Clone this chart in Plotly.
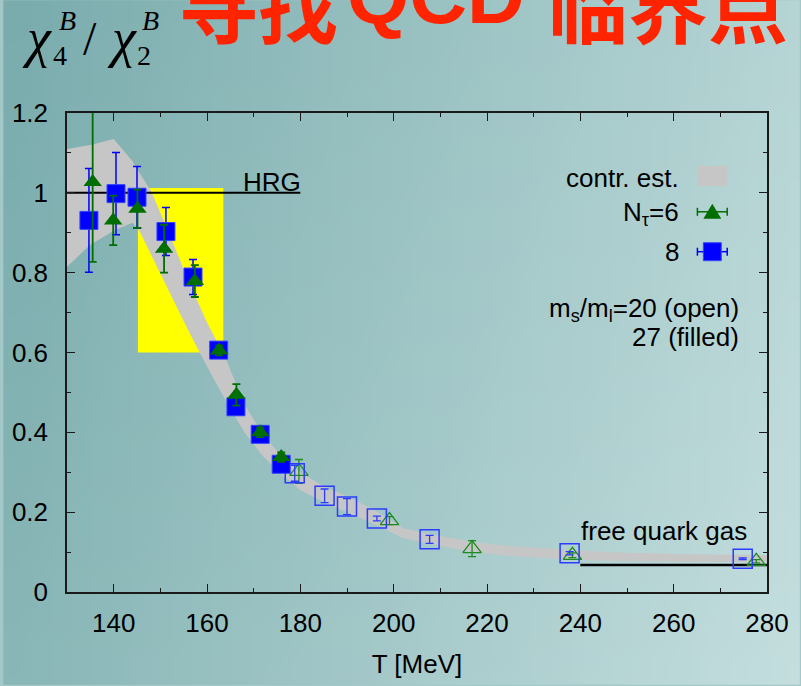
import zlib, struct, base64
import plotly.graph_objects as go

# ---------------- data ----------------
# contribution estimate band (gray)
band_T = [130, 135, 140, 144, 145.5, 148, 152, 156, 160, 164, 168, 172, 176, 180, 185, 190, 196, 202, 210, 217, 225, 235, 245, 260, 280]
band_lo = [0.815, 0.87, 0.905, 0.925, 0.905, 0.845, 0.75, 0.655, 0.565, 0.48, 0.40, 0.34, 0.295, 0.255, 0.225, 0.20, 0.17, 0.135, 0.115, 0.10, 0.09, 0.083, 0.078, 0.076, 0.075]
band_hi = [1.11, 1.12, 1.135, 1.08, 1.05, 1.005, 0.895, 0.78, 0.675, 0.585, 0.47, 0.395, 0.34, 0.30, 0.265, 0.24, 0.205, 0.16, 0.14, 0.125, 0.115, 0.107, 0.10, 0.095, 0.0925]

# N_tau=8, ms/ml=27 (filled squares)
T8f = [134.7, 140.5, 145.0, 151.2, 157.0, 162.5, 166.2, 171.4, 175.9]
y8f = [0.931, 0.998, 0.989, 0.903, 0.789, 0.606, 0.464, 0.395, 0.320]
e8f = [0.13, 0.103, 0.077, 0.06, 0.044, 0.012, 0.015, 0.012, 0.012]

# N_tau=6, ms/ml=27 (filled triangles)
T6f = [135.5, 139.9, 145.1, 150.8, 157.4, 162.6, 166.3, 171.4, 175.9]
y6f = [1.027, 0.931, 0.960, 0.860, 0.779, 0.605, 0.494, 0.400, 0.338]
e6f = [0.20, 0.062, 0.048, 0.06, 0.04, 0.012, 0.027, 0.012, 0.012]

# N_tau=8, ms/ml=20 (open squares)
T8o = [178.8, 185.2, 190.0, 196.4, 207.7, 237.7, 274.8]
y8o = [0.2975, 0.241, 0.214, 0.184, 0.132, 0.097, 0.0834]
e8o = [0.02, 0.017, 0.02, 0.006, 0.01, 0.004, 0.002]

# N_tau=6, ms/ml=20 (open triangles)
T6o = [179.7, 199.1, 216.8, 238.3, 277.7]
y6o = [0.302, 0.179, 0.1085, 0.092, 0.077]
e6o = [0.03, 0.01, 0.02, 0.006, 0.004]

HRG_T = [130, 180]
HRG_y = [1.0, 1.0]
free_T = [240, 280]
free_y = [0.0675, 0.0675]

highlight_T = [145.2, 163.5]
highlight_y = [0.6, 1.012]

x_ticks = [140, 160, 180, 200, 220, 240, 260, 280]
y_ticks = [0, 0.2, 0.4, 0.6, 0.8, 1.0, 1.2]
y_ticklabels = ["0", "0.2", "0.4", "0.6", "0.8", "1", "1.2"]

# ---------------- layout helpers ----------------
W, H = 801, 686
L, R, T_, B = 64, 33, 113, 93
PW, PH = W - L - R, H - T_ - B

def xp(px):
    return (px - L) / PW

def yp(py):
    return (H - B - py) / PH

FONT = "Liberation Sans, Arial, Helvetica, sans-serif"
SERIF = "Liberation Serif, DejaVu Serif, serif"

# background gradient png
def make_png(w, h, c0, c1):
    raw = bytearray()
    for j in range(h):
        raw.append(0)
        for i in range(w):
            t = 0.8 * i / (w - 1) + 0.2 * j / (h - 1)
            raw += bytes(int(round(c0[k] + (c1[k] - c0[k]) * t)) for k in range(3))
    def chunk(tag, data):
        c = struct.pack('>I', len(data)) + tag + data
        return c + struct.pack('>I', zlib.crc32(tag + data) & 0xffffffff)
    png = (b'\x89PNG\r\n\x1a\n' + chunk(b'IHDR', struct.pack('>IIBBBBB', w, h, 8, 2, 0, 0, 0))
           + chunk(b'IDAT', zlib.compress(bytes(raw))) + chunk(b'IEND', b''))
    return 'data:image/png;base64,' + base64.b64encode(png).decode()

bg = make_png(40, 40, (122, 172, 173), (196, 222, 222))

fig = go.Figure()

# band
fig.add_trace(go.Scatter(x=band_T, y=band_lo, mode='lines', line=dict(width=0, color='#c6c6c6'),
                         showlegend=False, hoverinfo='skip'))
fig.add_trace(go.Scatter(x=band_T, y=band_hi, mode='lines', line=dict(width=0, color='#c6c6c6'),
                         fill='tonexty', fillcolor='#c6c6c6', showlegend=False, hoverinfo='skip'))

# reference lines
fig.add_trace(go.Scatter(x=HRG_T, y=HRG_y, mode='lines', line=dict(color='black', width=2), showlegend=False))
fig.add_trace(go.Scatter(x=free_T, y=free_y, mode='lines', line=dict(color='black', width=2.5), showlegend=False))

BLUE = '#0000ff'
GREEN = '#006e00'

fig.add_trace(go.Scatter(x=T6o, y=y6o, mode='markers',
                         marker=dict(symbol='triangle-up-open', size=16, color='#1f8a1f', line=dict(width=1.3, color='#1f8a1f')),
                         error_y=dict(type='data', array=e6o, color='#1f8a1f', thickness=1.3, width=4),
                         showlegend=False))
fig.add_trace(go.Scatter(x=T8o, y=y8o, mode='markers',
                         marker=dict(symbol='square-open', size=19, color='#2a3cff', line=dict(width=1.5, color='#2a3cff')),
                         error_y=dict(type='data', array=e8o, color='#2a3cff', thickness=1.3, width=4),
                         showlegend=False))
fig.add_trace(go.Scatter(x=T8f, y=y8f, mode='markers',
                         marker=dict(symbol='square', size=18, color=BLUE, line=dict(width=1, color='#3344ff')),
                         error_y=dict(type='data', array=e8f, color=BLUE, thickness=1.5, width=4),
                         showlegend=False))
fig.add_trace(go.Scatter(x=T6f, y=y6f, mode='markers',
                         marker=dict(symbol='triangle-up', size=16, color=GREEN, line=dict(width=0)),
                         error_y=dict(type='data', array=e6f, color=GREEN, thickness=1.8, width=4),
                         showlegend=False))

shapes = [
    dict(type='rect', xref='x', yref='y', x0=highlight_T[0], x1=highlight_T[1], y0=highlight_y[0], y1=highlight_y[1],
         fillcolor='#ffff00', line=dict(width=0), layer='below'),
    # legend: gray box
    dict(type='rect', xref='paper', yref='paper', x0=xp(698), x1=xp(728), y0=yp(186), y1=yp(166),
         fillcolor='#c6c6c6', line=dict(width=0)),
]
# legend error bars
for cy, col in [(212, GREEN), (252, BLUE)]:
    shapes.append(dict(type='line', xref='paper', yref='paper', x0=xp(698), x1=xp(728), y0=yp(cy), y1=yp(cy),
                       line=dict(color=col, width=1.5)))
    for cx in (698, 728):
        shapes.append(dict(type='line', xref='paper', yref='paper', x0=xp(cx), x1=xp(cx), y0=yp(cy - 4), y1=yp(cy + 4),
                           line=dict(color=col, width=1.5)))
# legend triangle
tri = 'M {:.5f} {:.5f} L {:.5f} {:.5f} L {:.5f} {:.5f} Z'.format(
    xp(704), yp(219), xp(722), yp(219), xp(713), yp(204))
shapes.append(dict(type='path', xref='paper', yref='paper', path=tri, fillcolor=GREEN, line=dict(width=0)))
shapes.append(dict(type='rect', xref='paper', yref='paper', x0=xp(704), x1=xp(722), y0=yp(261), y1=yp(243),
                   fillcolor=BLUE, line=dict(width=1, color='#3344ff')))

ann = []
def text(s, px, py, xanchor='center', size=26, font=FONT, color='black'):
    ann.append(dict(text=s, x=xp(px), y=yp(py), xref='paper', yref='paper', xanchor=xanchor, yanchor='middle',
                    showarrow=False, font=dict(family=font, size=size, color=color)))

text('HRG', 301, 182, 'right')
text('free quark gas', 579, 532, 'left')
text('contr. est.', 682, 178, 'right')
text('N<sub>τ</sub>=6', 682, 214, 'right')
text('8', 682, 252, 'right')
text('m<sub>s</sub>/m<sub>l</sub>=20 (open)', 742, 310, 'right')
text('27 (filled)', 742, 337, 'right')

# y-label chi4/chi2
text('<i>χ</i>', 34, 38, size=54, font=SERIF)
text('<i>B</i>', 64, 20, size=28, font=SERIF)
text('4', 57, 55, size=28, font=SERIF)
text('/', 87, 38, size=48, font=SERIF)
text('<i>χ</i>', 119, 38, size=54, font=SERIF)
text('<i>B</i>', 148, 20, size=28, font=SERIF)
text('2', 141, 55, size=28, font=SERIF)

# slide title (cut at the top as in the slide)
RED = '#ff2400'
text('<b>寻找</b>', 174, 2, 'left', size=80, font='Noto Sans CJK SC, sans-serif', color=RED)
text('<b>QCD</b>', 344, -5, 'left', size=80, font='Liberation Sans, Arial, sans-serif', color=RED)
text('<b>临界点</b>', 546, 2, 'left', size=80, font='Noto Sans CJK SC, sans-serif', color=RED)

axis_common = dict(showline=True, linecolor='#1a1a1a', linewidth=1.5, mirror='ticks', ticks='inside',
                   tickcolor='#1a1a1a', tickwidth=1.3, ticklen=8, showgrid=False, zeroline=False,
                   tickfont=dict(family=FONT, size=26, color='black'))

fig.update_layout(
    width=W, height=H, autosize=False,
    margin=dict(l=L, r=R, t=T_, b=B, pad=0),
    paper_bgcolor='#a3c8c8', plot_bgcolor='rgba(0,0,0,0)',
    images=[dict(source=bg, xref='paper', yref='paper', x=-L / PW, y=1 + T_ / PH,
                 sizex=W / PW, sizey=H / PH, sizing='stretch', layer='below', xanchor='left', yanchor='top')],
    xaxis=dict(range=[130, 280], tickvals=x_ticks, ticklabelstandoff=7,
               minor=dict(dtick=10, tick0=0, ticks='inside', ticklen=4, tickcolor='#1a1a1a', tickwidth=1),
               title=dict(text='T [MeV]', font=dict(family=FONT, size=26, color='black'), standoff=18),
               **axis_common),
    yaxis=dict(range=[0, 1.2], tickvals=y_ticks, ticktext=y_ticklabels, ticklabelstandoff=12,
               minor=dict(dtick=0.1, tick0=0, ticks='inside', ticklen=4, tickcolor='#1a1a1a', tickwidth=1),
               **axis_common),
    shapes=shapes,
    annotations=ann,
    showlegend=False,
)

fig.write_html('out.html', config={'displayModeBar': False},
               post_script="document.body.style.margin='0';document.body.style.padding='0';document.body.style.overflow='hidden';")
